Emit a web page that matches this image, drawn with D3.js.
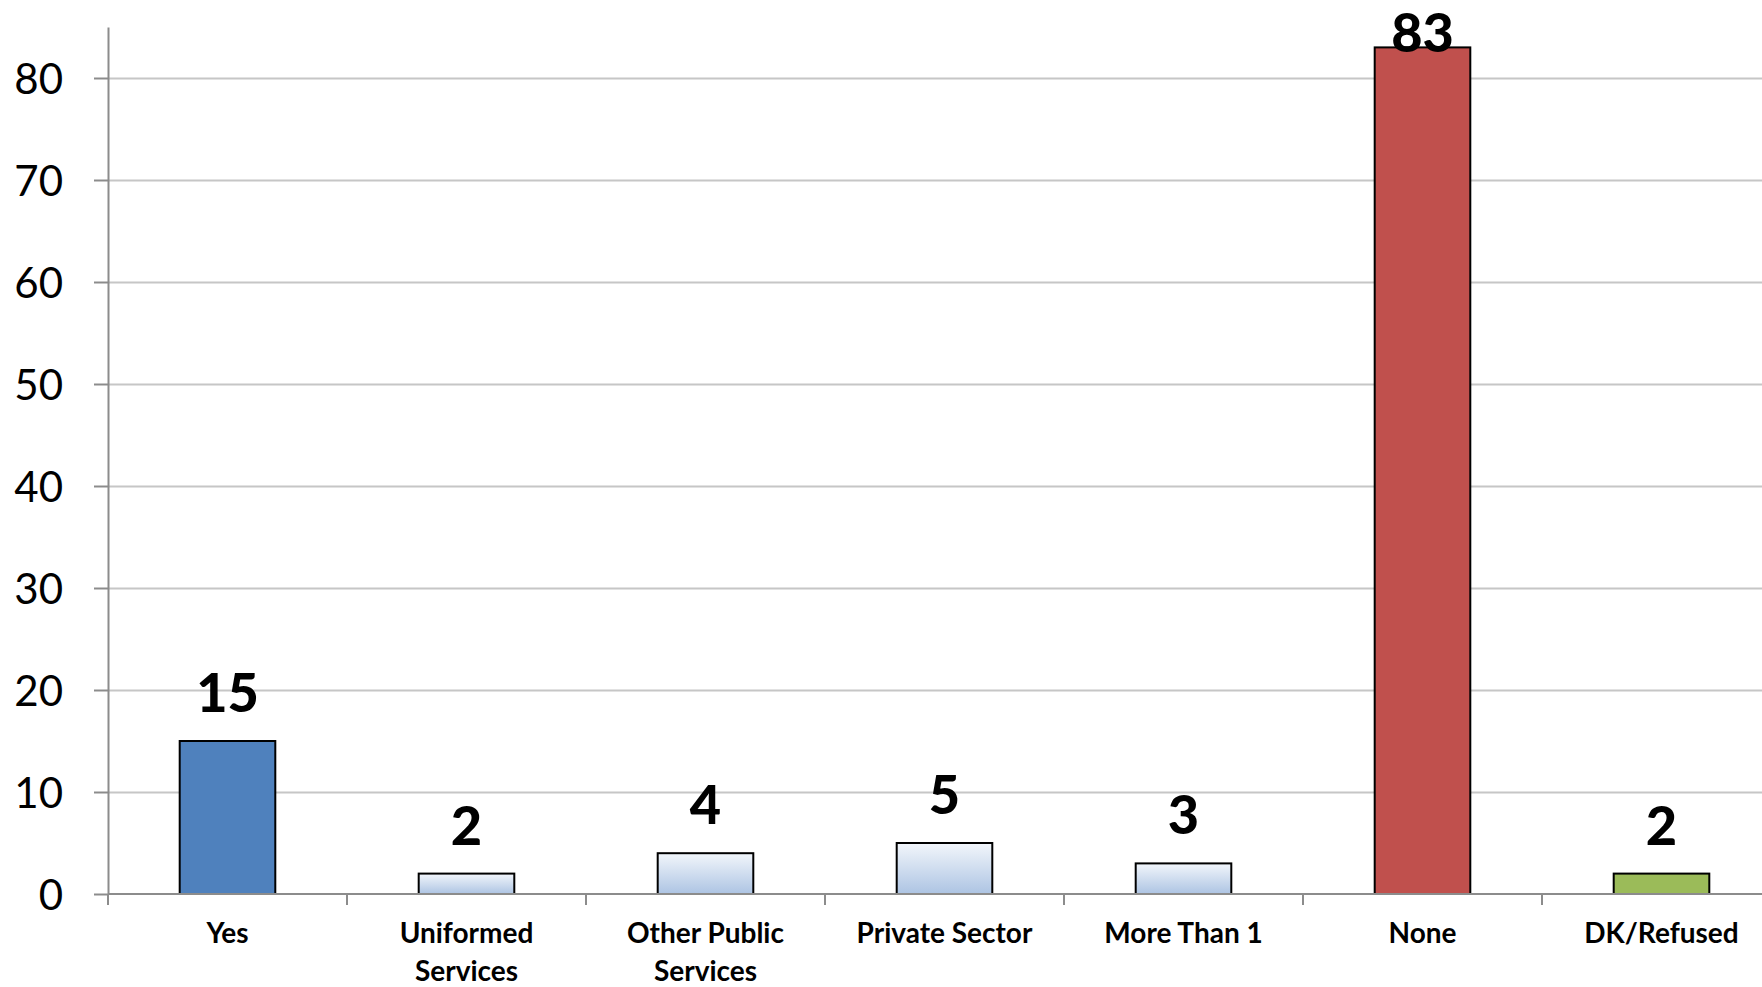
<!DOCTYPE html>
<html>
<head>
<meta charset="utf-8">
<script src="https://cdn.jsdelivr.net/npm/d3@7"></script>
<style>
  body { margin: 0; background: #fff; }
  svg { display: block; font-family: Lato, "Open Sans", sans-serif; }
</style>
</head>
<body>
<div id="chart"></div>
<script>
// data
var categories = ["Yes", "Uniformed Services", "Other Public Services", "Private Sector", "More Than 1", "None", "DK/Refused"];
var labelLines = [["Yes"], ["Uniformed", "Services"], ["Other Public", "Services"], ["Private Sector"], ["More Than 1"], ["None"], ["DK/Refused"]];
var values = [15, 2, 4, 5, 3, 83, 2];
var barFills = ["#4f81bd", "url(#paleBlue)", "url(#paleBlue)", "url(#paleBlue)", "url(#paleBlue)", "#c0504d", "#9bbb59"];
var yTicks = [0, 10, 20, 30, 40, 50, 60, 70, 80];

var W = 1762, H = 987;
var plotLeft = 108, plotBottom = 894, plotTop = 27;
var step = 239;

var svg = d3.select("#chart")
  .append("svg")
    .attr("width", W)
    .attr("height", H);

var defs = svg.append("defs");
var grad = defs.append("linearGradient")
    .attr("id", "paleBlue")
    .attr("x1", 0).attr("y1", 0).attr("x2", 0).attr("y2", 1);
grad.append("stop").attr("offset", "0%").attr("stop-color", "#f2f6fb");
grad.append("stop").attr("offset", "100%").attr("stop-color", "#adc4e3");

var x = d3.scaleBand()
  .domain(categories)
  .range([plotLeft, plotLeft + step * categories.length])
  .padding(0);

var y = d3.scaleLinear()
  .domain([0, 85])
  .range([plotBottom, plotTop]);

// gridlines
svg.append("g")
  .attr("transform", "translate(" + plotLeft + ",0)")
  .call(d3.axisLeft(y).tickValues(yTicks.slice(1)).tickSize(-(W - plotLeft)).tickFormat(""))
  .call(g => g.select(".domain").remove())
  .selectAll("line")
    .attr("stroke", "#c6c6c6")
    .attr("stroke-width", 2);

// y axis
var yAxis = svg.append("g")
  .attr("transform", "translate(" + plotLeft + ",0)")
  .call(d3.axisLeft(y).tickValues(yTicks).tickSize(14).tickSizeOuter(0).tickPadding(31));
yAxis.select(".domain").attr("stroke", "#8c8c8c").attr("stroke-width", 2);
yAxis.selectAll(".tick line").attr("stroke", "#8c8c8c").attr("stroke-width", 2);
yAxis.selectAll(".tick text")
  .attr("font-family", "Lato, sans-serif")
  .attr("font-size", 42)
  .attr("fill", "#000")
  .attr("dy", "0.36em");

// bars
svg.append("g")
  .selectAll("rect")
  .data(values)
  .join("rect")
    .attr("x", (d, i) => x(categories[i]) + x.bandwidth() * 0.3)
    .attr("width", x.bandwidth() * 0.4)
    .attr("y", d => y(d))
    .attr("height", d => y(0) - y(d))
    .attr("fill", (d, i) => barFills[i])
    .attr("stroke", "#000")
    .attr("stroke-width", 2);

// x axis line and boundary ticks
svg.append("line")
  .attr("x1", plotLeft).attr("x2", W)
  .attr("y1", y(0)).attr("y2", y(0))
  .attr("stroke", "#8c8c8c")
  .attr("stroke-width", 2);

svg.append("g")
  .selectAll("line")
  .data(categories)
  .join("line")
    .attr("x1", d => x(d)).attr("x2", d => x(d))
    .attr("y1", y(0)).attr("y2", y(0) + 11)
    .attr("stroke", "#8c8c8c")
    .attr("stroke-width", 2);

// category labels
var xl = svg.append("g")
  .selectAll("text")
  .data(categories)
  .join("text")
    .attr("x", d => x(d) + x.bandwidth() / 2)
    .attr("y", 943)
    .attr("text-anchor", "middle")
    .attr("font-size", 28)
    .attr("font-weight", "bold")
    .attr("fill", "#000");
xl.each(function(d, i) {
  var t = d3.select(this);
  labelLines[i].forEach(function(line, j) {
    t.append("tspan")
      .attr("x", x(d) + x.bandwidth() / 2)
      .attr("dy", j === 0 ? 0 : 38)
      .text(line);
  });
});

// value labels (the tall one is kept inside the picture)
svg.append("g")
  .selectAll("text")
  .data(values)
  .join("text")
    .attr("x", (d, i) => x(categories[i]) + x.bandwidth() / 2)
    .attr("y", d => Math.max(y(d) - 29, 52))
    .attr("text-anchor", "middle")
    .attr("font-size", 54)
    .attr("font-weight", 900)
    .attr("fill", "#000")
    .text(d => d);
</script>
</body>
</html>
